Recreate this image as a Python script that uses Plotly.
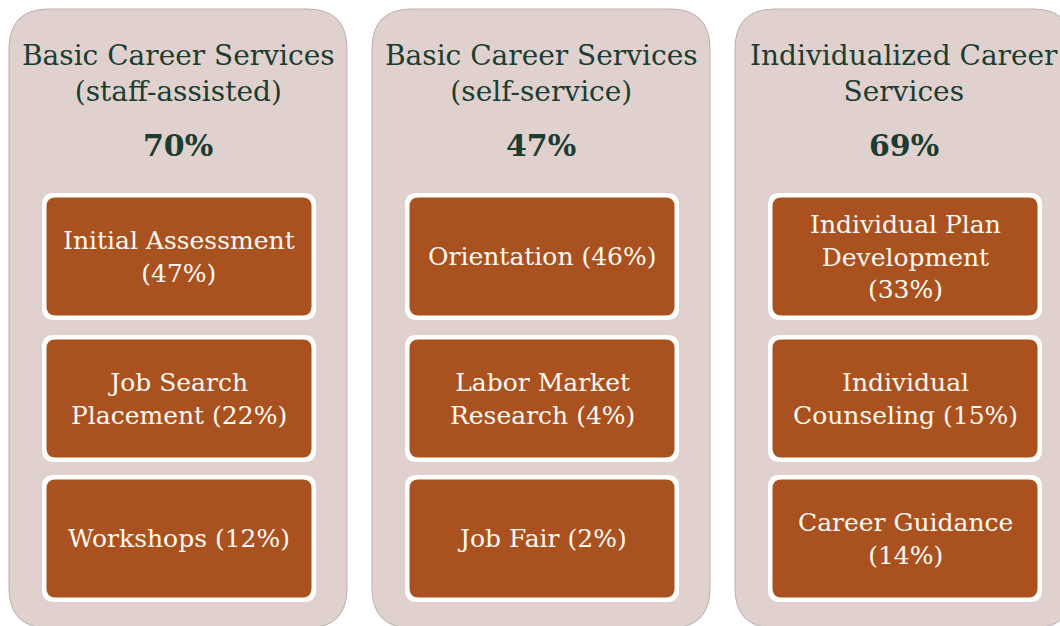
import plotly.graph_objects as go

# service groups, their overall share and the three sub-services of each
groups = ["Basic Career Services<br>(staff-assisted)",
          "Basic Career Services<br>(self-service)",
          "Individualized Career<br>Services"]
group_pct = ["70%", "47%", "69%"]
items = [
    ["Initial Assessment<br>(47%)", "Job Search<br>Placement (22%)", "Workshops (12%)"],
    ["Orientation (46%)", "Labor Market<br>Research (4%)", "Job Fair (2%)"],
    ["Individual Plan<br>Development<br>(33%)", "Individual<br>Counseling (15%)", "Career Guidance<br>(14%)"],
]

W, H = 1060, 626
panel_bg = "#E1D1CE"
box_fill = "#A9521F"
green = "#1B3D31"
font_name = "DejaVu Serif"


def rounded(x0, y0, x1, y1, r):
    # rounded rectangle as svg path (y axis is reversed so y0 is the top)
    return (f"M {x0+r},{y0} L {x1-r},{y0} Q {x1},{y0} {x1},{y0+r} "
            f"L {x1},{y1-r} Q {x1},{y1} {x1-r},{y1} L {x0+r},{y1} "
            f"Q {x0},{y1} {x0},{y1-r} L {x0},{y0+r} Q {x0},{y0} {x0+r},{y0} Z")


fig = go.Figure()
shapes = []
annotations = []

panel_x = [9, 372, 735]
panel_w = 338
row_y = [193, 335, 475]
row_h = 127

for i, g in enumerate(groups):
    px = panel_x[i]
    cx = px + panel_w / 2
    shapes.append(dict(type="path", path=rounded(px, 9, px + panel_w, 628, 40),
                       fillcolor=panel_bg, line=dict(color="#B9AEAC", width=1), layer="below"))
    annotations.append(dict(x=cx, y=73, text=g, showarrow=False,
                            font=dict(family=font_name, size=28, color=green)))
    annotations.append(dict(x=cx, y=145, text="<b>" + group_pct[i] + "</b>", showarrow=False,
                            font=dict(family=font_name, size=30, color=green)))
    bx0 = px + 33
    bx1 = px + panel_w - 31
    for j, it in enumerate(items[i]):
        y0 = row_y[j]
        y1 = y0 + row_h
        shapes.append(dict(type="path", path=rounded(bx0, y0, bx1, y1, 12),
                           fillcolor="white", line=dict(width=0)))
        shapes.append(dict(type="path", path=rounded(bx0 + 4.5, y0 + 4.5, bx1 - 4.5, y1 - 4.5, 9),
                           fillcolor=box_fill, line=dict(width=0)))
        annotations.append(dict(x=(bx0 + bx1) / 2, y=(y0 + y1) / 2, text=it, showarrow=False,
                                font=dict(family=font_name, size=25, color="#FFF8F2")))

fig.update_layout(
    width=W, height=H,
    margin=dict(l=0, r=0, t=0, b=0),
    paper_bgcolor="white",
    plot_bgcolor="white",
    shapes=shapes,
    annotations=annotations,
    showlegend=False,
)
fig.update_xaxes(range=[0, W], visible=False, fixedrange=True)
fig.update_yaxes(range=[H, 0], visible=False, fixedrange=True)

# drop the default page margin so the figure fills the window exactly
fig.write_html("out.html", config={"displayModeBar": False},
               post_script="document.body.style.margin='0';document.body.style.overflow='hidden';")
